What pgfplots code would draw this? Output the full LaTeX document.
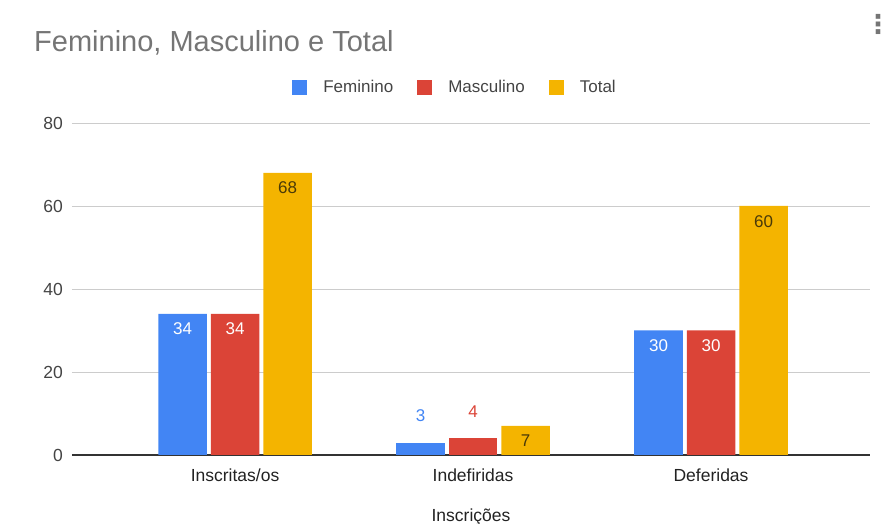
\documentclass[border=0pt]{standalone}
\usepackage{fontspec}
\setmainfont{Liberation Sans}
\newfontfamily\dejavu{DejaVu Sans}
\usepackage{pgfplots}
\pgfplotsset{compat=1.18}
\definecolor{gblue}{HTML}{4285F4}
\definecolor{gred}{HTML}{DB4437}
\definecolor{gyellow}{HTML}{F4B400}
\definecolor{titlegray}{HTML}{757575}
\definecolor{tickgray}{HTML}{444444}
\definecolor{labgray}{HTML}{222222}
\definecolor{gridgray}{HTML}{CCCCCC}
\definecolor{basegray}{HTML}{333333}
\definecolor{ylab}{HTML}{4A3A08}
\begin{document}
\begin{tikzpicture}
\path[use as bounding box] (0pt,0pt) rectangle (894pt,524pt);
\begin{axis}[
  at={(72pt,69pt)}, anchor=south west,
  scale only axis, width=798pt, height=332pt,
  xmin=-0.685, xmax=2.668, ymin=0, ymax=80,
  ybar, bar width=0.204,
  xtick={0,1,2}, xticklabels={Inscritas/os,Indefiridas,Deferidas},
  ytick={0,20,40,60,80},
  ymajorgrids, grid style={gridgray, line width=0.8pt},
  extra y ticks={0}, extra y tick labels={},
  extra y tick style={grid style={basegray, line width=1.3pt}},
  axis line style={draw=none}, tick style={draw=none},
  /pgf/number format/assume math mode=true,
  yticklabel style={anchor=east, inner sep=0pt, xshift=-9pt, text=tickgray, font=\fontsize{17.5}{20}\selectfont},
  xticklabel style={anchor=base, inner sep=0pt, yshift=-22.7pt, text=labgray, font=\fontsize{17.5}{20}\selectfont},
  xlabel={Inscrições},
  xlabel style={at={(axis description cs:0.5,0)}, anchor=base, inner sep=0pt, yshift=-67pt, text=labgray, font=\fontsize{17.5}{20}\selectfont},
  nodes near coords,
  every node near coord/.append style={inner sep=0pt, font=\fontsize{17}{20}\selectfont},
  inlab/.style={every node near coord/.append style={anchor=north, yshift=-9pt}},
  uplab/.style={every node near coord/.append style={anchor=south, yshift=21pt}},
  legend style={at={(0.48,1.108)}, anchor=center, draw=none, fill=none, legend columns=3,
    font=\fontsize{17}{20}\selectfont, text=tickgray,
    /tikz/every odd column/.append style={column sep=14pt},
    /tikz/every even column/.append style={column sep=22pt}},
  sq/.style={legend image code/.code={\fill[##1] (0pt,-7.5pt) rectangle (15pt,7.5pt);}},
]
% Feminino
\addplot[fill=gblue, draw=none, bar shift=-0.2206, sq, inlab,
  every node near coord/.append style={text=white}]
  coordinates {(0,34) (2,30)};
\addplot[fill=gblue, draw=none, bar shift=-0.2206, forget plot, uplab,
  every node near coord/.append style={text=gblue}]
  coordinates {(1,3)};
% Masculino
\addplot[fill=gred, draw=none, bar shift=0, sq, inlab,
  every node near coord/.append style={text=white}]
  coordinates {(0,34) (2,30)};
\addplot[fill=gred, draw=none, bar shift=0, forget plot, uplab,
  every node near coord/.append style={text=gred}]
  coordinates {(1,4)};
% Total
\addplot[fill=gyellow, draw=none, bar shift=0.2206, sq, inlab,
  every node near coord/.append style={text=ylab}]
  coordinates {(0,68) (1,7) (2,60)};
\legend{Feminino, Masculino, Total}
\end{axis}
\node[anchor=base west, inner sep=0pt, text=titlegray, font=\fontsize{29}{34}\selectfont] at (34pt,472pt) {Feminino, Masculino e Total};
\node[inner sep=0pt, text=titlegray, font=\dejavu\bfseries\fontsize{26}{26}\selectfont] at (878pt,500pt) {⋮};
\end{tikzpicture}
\end{document}
